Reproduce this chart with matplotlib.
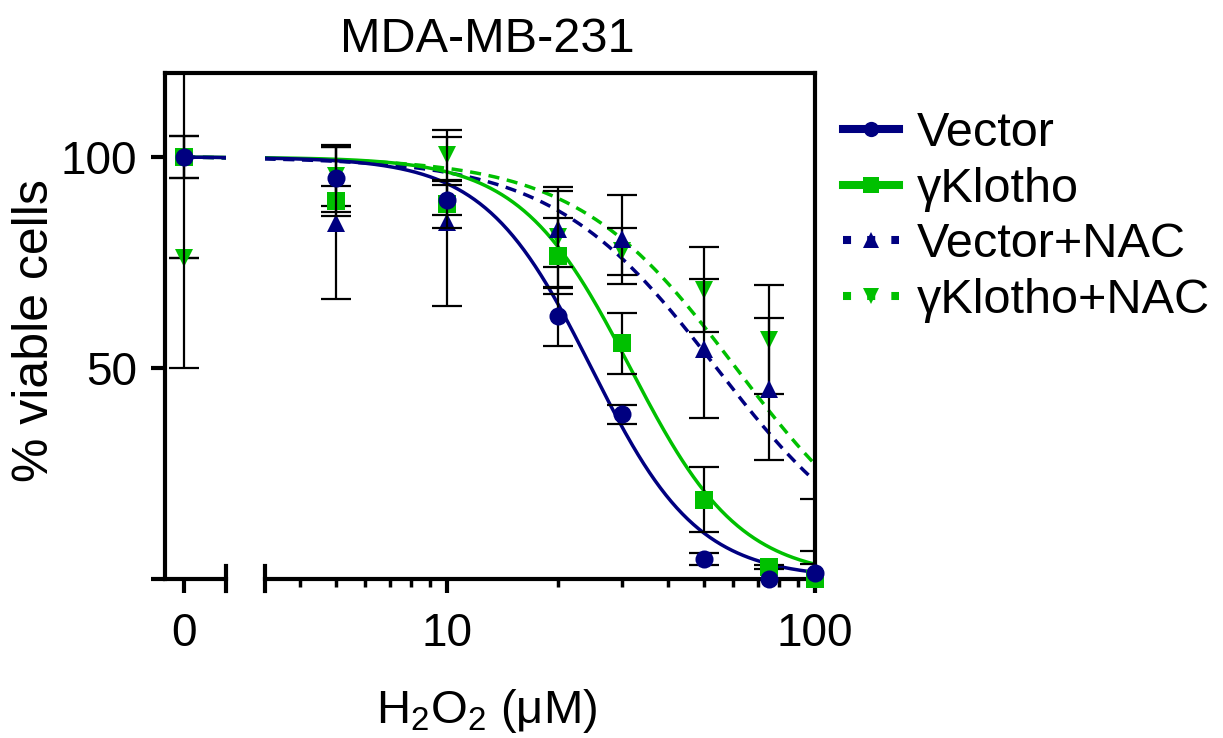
import numpy as np
import matplotlib
matplotlib.use('Agg')
import matplotlib.pyplot as plt
from matplotlib.lines import Line2D
from matplotlib.ticker import FixedLocator, NullFormatter

plt.rcParams['font.family'] = ['Liberation Sans', 'DejaVu Sans']
plt.rcParams['mathtext.fontset'] = 'custom'
plt.rcParams['mathtext.rm'] = 'Liberation Sans'

##データ (H2O2 濃度, 平均, SEM)
dose = [0, 5, 10, 20, 30, 50, 75, 100]
names = ['Vector', 'γKlotho', 'Vector+NAC', 'γKlotho+NAC']

vec = [100, 95, 89.8, 62.3, 39, 4.6, 0, 1.2]
vec_err = [5, 8, 3.5, 7, 2.3, 1.5, 0, 2.2]
kl = [100, 89.6, 88.8, 76.5, 55.8, 18.7, 2.8, 0]
kl_err = [5, 3.5, 5.5, 9, 7.2, 7.7, 0.5, 6.5]
vnac = [100, 84.4, 84.7, 83, 80.5, 54.5, 45, 0]
vnac_err = [50, 18, 20, 9, 10.5, 16.5, 16.8, 18.8]
knac = [76, 95.5, 100.5, 81, 77.7, 68.6, 56.7, np.nan]
knac_err = [0, 7, 6, 12, 5.6, 10.1, 13, np.nan]

##フィット曲線のパラメータ (IC50, Hill係数)
ic50 = [24.7, 31.5, 54, 61]
hill = [3.0, 2.9, 1.95, 2.0]

navy = '#000080'
green = '#00C000'
colors = [navy, green, navy, green]
markers = ['o', 's', '^', 'v']
styles = ['-', '-', (0, (3.2, 2.2)), (0, (3.2, 2.2))]
means = [vec, kl, vnac, knac]
errs = [vec_err, kl_err, vnac_err, knac_err]

W, H = 1223, 738
fig = plt.figure(figsize=(W / 100, H / 100), dpi=100)

bot = 1 - 578.5 / H
hgt = (578.5 - 73) / H
ax0 = fig.add_axes([165 / W, bot, (226 - 165) / W, hgt])
ax1 = fig.add_axes([264.5 / W, bot, (815 - 264.5) / W, hgt])

def logistic(x, ic, h):
    return 100 / (1 + (x / ic) ** h)

#描画順: γKlotho+NAC, Vector+NAC, γKlotho, Vector
order = [3, 2, 1, 0]

x0 = np.linspace(0, 2.2, 20)
x1 = np.logspace(np.log10(3.2), 2, 300)
for i in order:
    ax0.plot(x0, logistic(x0, ic50[i], hill[i]), color=colors[i], ls=styles[i], lw=2.5, zorder=2)
    ax1.plot(x1, logistic(x1, ic50[i], hill[i]), color=colors[i], ls=styles[i], lw=2.5, zorder=2)

d = np.array(dose, dtype=float)
for k, i in enumerate(order):
    m = np.array(means[i], dtype=float)
    e = np.array(errs[i], dtype=float)
    for ax, sel in [(ax0, d == 0), (ax1, d > 0)]:
        ax.errorbar(d[sel], m[sel], yerr=e[sel], fmt='none', ecolor='black',
                    elinewidth=1.6, capsize=11, capthick=1.6, zorder=3 + 2 * k)
        ax.plot(d[sel], m[sel], ls='none', marker=markers[i], color=colors[i],
                ms=13, mew=0, clip_on=False, zorder=4 + 2 * k)

for ax in (ax0, ax1):
    ax.set_ylim(0, 120)
    ax.spines['top'].set_visible(False)
    for s in ax.spines.values():
        s.set_linewidth(3)
    ax.tick_params(axis='both', which='major', length=10, width=3, labelsize=33, pad=10)
    ax.tick_params(axis='x', which='major', pad=14)
    ax.tick_params(axis='x', which='minor', length=6, width=2.5)

ax0.set_xlim(-1, 2.2)
ax0.spines['right'].set_visible(False)
ax0.set_xticks([0])
ax0.set_xticklabels(['0'])
ax0.set_yticks([0, 50, 100])
ax0.set_yticklabels(['', '50', '100'])

ax1.set_xscale('log')
ax1.set_xlim(3.2, 100)
ax1.spines['left'].set_visible(False)
ax1.tick_params(axis='y', left=False, labelleft=False)
ax1.set_xticks([10, 100])
ax1.set_xticklabels(['10', '100'])
ax1.xaxis.set_minor_locator(FixedLocator([4, 5, 6, 7, 8, 9, 20, 30, 40, 50, 60, 70, 80, 90]))
ax1.xaxis.set_minor_formatter(NullFormatter())

#上枠と軸の切れ目
fig.add_artist(Line2D([165 / W, 815 / W], [1 - 73 / H] * 2, transform=fig.transFigure,
                      color='black', lw=3, solid_capstyle='projecting'))
for xb in (226, 264.5):
    fig.add_artist(Line2D([xb / W] * 2, [1 - 591 / H, 1 - 566 / H], transform=fig.transFigure,
                          color='black', lw=3))

fig.text(487 / W, 1 - 52 / H, 'MDA-MB-231', ha='center', va='baseline', fontsize=35)
fig.text(487 / W, 1 - 723 / H, 'H$_\\mathregular{2}$O$_\\mathregular{2}$ (μM)',
         ha='center', va='baseline', fontsize=34)
fig.text(35 / W, 1 - 331 / H, '% viable cells', rotation=90, ha='center', va='center', fontsize=36)

handles = []
for i in range(4):
    ls = '-' if i < 2 else (0, (1, 2))
    handles.append(Line2D([], [], color=colors[i], lw=5.8, ls=ls, marker=markers[i],
                          ms=11, mew=0, dash_capstyle='butt'))
fig.legend(handles, names, loc='upper left', bbox_to_anchor=(843 / W, 1 - 111 / H),
           frameon=False, fontsize=35, handlelength=1.15, handletextpad=0.37,
           labelspacing=0.22, borderpad=0, borderaxespad=0)

fig.savefig('out.png', dpi=100)
